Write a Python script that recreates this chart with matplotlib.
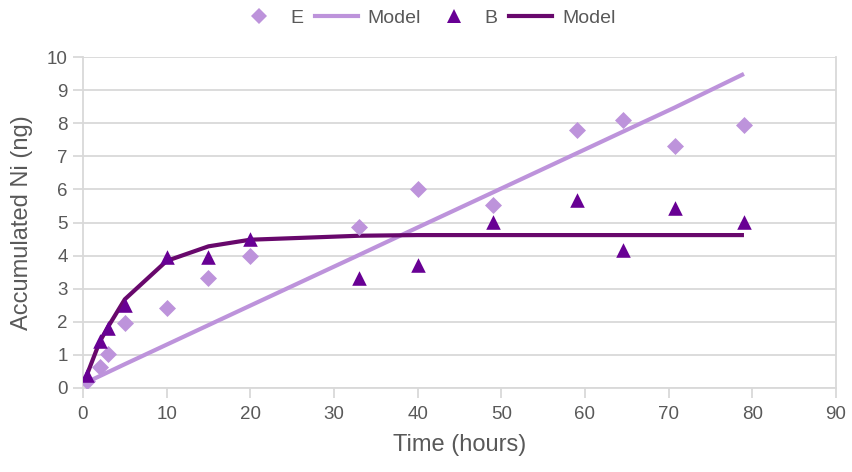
import matplotlib

matplotlib.use("Agg")
import matplotlib.pyplot as plt
from matplotlib.lines import Line2D

plt.rcParams["font.family"] = ["Liberation Sans", "DejaVu Sans"]

# sampling times (hours)
time_h = [0.5, 2, 3, 5, 10, 15, 20, 33, 40, 49, 59, 64.5, 70.7, 79]

# measured accumulated Ni (ng)
ni_e = [0.22, 0.62, 1.03, 1.96, 2.43, 3.32, 3.99, 4.86, 6.01, 5.53, 7.80, 8.10, 7.31, 7.95]
ni_b = [0.38, 1.41, 1.80, 2.52, 3.95, 3.95, 4.49, 3.32, 3.72, 5.03, 5.67, 4.18, 5.44, 5.03]

# fitted model curves at the same times
model_e = [0.18, 0.36, 0.48, 0.72, 1.31, 1.90, 2.49, 4.02, 4.85, 5.91, 7.09, 7.74, 8.47, 9.49]
model_b = [0.42, 1.40, 1.85, 2.68, 3.84, 4.28, 4.48, 4.60, 4.62, 4.62, 4.62, 4.62, 4.62, 4.62]

x_ticks = list(range(0, 91, 10))
y_ticks = list(range(0, 11))

LIGHT = "#bd93db"
DARK_PT = "#680094"
DARK_LN = "#68086c"
GRID = "#d9d9d9"
TEXT = "#595959"

fig = plt.figure(figsize=(8.53, 4.72), dpi=100)
ax = fig.add_axes([83 / 853, 1 - 388 / 472, (836 - 83) / 853, (388 - 57) / 472])

ax.plot(time_h, model_e, color=LIGHT, lw=3, solid_capstyle="butt", zorder=2)
ax.plot(time_h, model_b, color=DARK_LN, lw=3, solid_capstyle="butt", zorder=2)
ax.scatter(time_h, ni_e, marker="D", s=75, color=LIGHT, linewidths=0, zorder=3)
ax.scatter(time_h, ni_b, marker="^", s=110, color=DARK_PT, linewidths=0, zorder=3)

ax.set_xlim(0, 90)
ax.set_ylim(0, 10)
ax.set_xticks(x_ticks)
ax.set_yticks(y_ticks)
ax.yaxis.grid(True, color=GRID, lw=1.3)
ax.set_axisbelow(True)

for side in ("left", "right", "bottom"):
    ax.spines[side].set_color(GRID)
    ax.spines[side].set_linewidth(1.3)
ax.spines["top"].set_visible(False)

ax.tick_params(axis="x", colors=GRID, length=7, width=1.3, labelcolor=TEXT, labelsize=13.5, pad=6)
ax.tick_params(axis="y", colors=GRID, length=7, width=1.3, labelcolor=TEXT, labelsize=13.5, pad=4)

ax.set_xlabel("Time (hours)", color=TEXT, fontsize=17, labelpad=8)
ax.set_ylabel("Accumulated Ni (ng)", color=TEXT, fontsize=17, labelpad=10)

handles = [
    Line2D([], [], marker="D", ls="none", color=LIGHT, markersize=8, markeredgewidth=0),
    Line2D([], [], color=LIGHT, lw=3),
    Line2D([], [], marker="^", ls="none", color=DARK_PT, markersize=10, markeredgewidth=0),
    Line2D([], [], color=DARK_LN, lw=3),
]
labels = ["E", "Model", "B", "Model"]
fig.legend(handles, labels, loc="center", bbox_to_anchor=(0.5, 1 - 18 / 472), ncol=4,
           frameon=False, fontsize=14, labelcolor=TEXT, handlelength=2.2,
           columnspacing=0.6, handletextpad=0.5)

fig.savefig("out.png", dpi=100)
